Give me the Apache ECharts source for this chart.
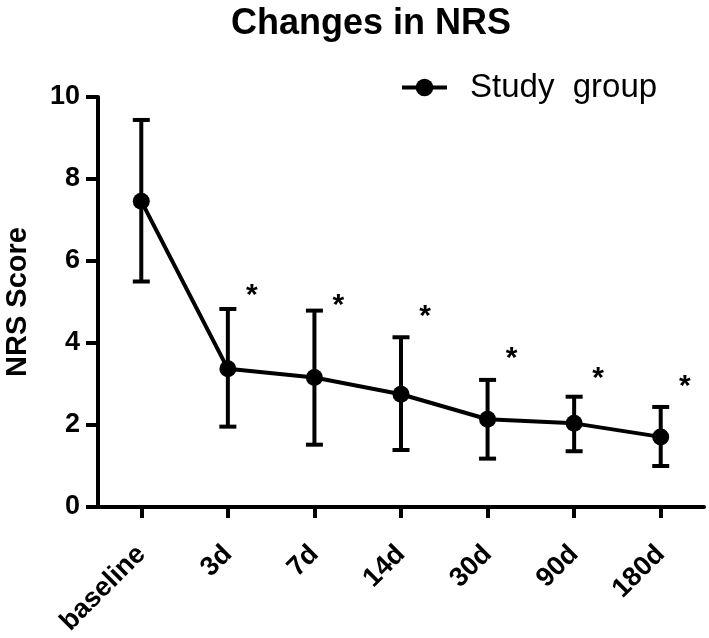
<!DOCTYPE html>
<html>
<head>
<meta charset="utf-8">
<script src="https://cdn.jsdelivr.net/npm/echarts@6/dist/echarts.min.js"></script>
<style>html,body{margin:0;padding:0;background:#fff}#c{width:709px;height:638px}</style>
</head>
<body>
<div id="c"></div>
<script>
var categories = ['baseline', '3d', '7d', '14d', '30d', '90d', '180d'];
var meanValues = [7.46, 3.37, 3.16, 2.75, 2.14, 2.04, 1.71];
var upperValues = [9.44, 4.83, 4.79, 4.14, 3.10, 2.69, 2.44];
var lowerValues = [5.50, 1.96, 1.52, 1.39, 1.18, 1.36, 1.00];
var starValues = [null, 5.23, 4.99, 4.72, 3.69, 3.20, 3.01];
var yTicks = [0, 2, 4, 6, 8, 10];

var FONT = 'Liberation Sans, Arial, sans-serif';
var chart = echarts.init(document.getElementById('c'), null, {renderer: 'canvas'});

var errData = categories.map(function (c, i) { return [i, lowerValues[i], upperValues[i]]; });
var starData = categories.map(function (c, i) { return [i, starValues[i]]; }).filter(function (d) { return d[1] != null; });

chart.setOption({
  animation: false,
  backgroundColor: '#fff',
  title: {
    text: 'Changes in NRS',
    left: 226, top: 1,
    textStyle: {fontFamily: FONT, fontSize: 36, fontWeight: 'bold', color: '#000'}
  },
  legend: {
    data: ['Study group'],
    left: 395, top: 66,
    itemWidth: 45, itemHeight: 22,
    formatter: function () { return 'Study  group'; },
    itemStyle: {color: '#000'},
    lineStyle: {color: '#000', width: 4},
    textStyle: {fontFamily: FONT, fontSize: 33, color: '#000', padding: [0, 0, 0, 18]}
  },
  grid: {left: 98, right: 5, top: 97, bottom: 131, containLabel: false, outerBoundsMode: 'none'},
  xAxis: {
    type: 'category',
    data: categories,
    boundaryGap: true,
    axisLine: {lineStyle: {color: '#000', width: 4}},
    axisTick: {show: true, alignWithLabel: true, length: 11, lineStyle: {width: 4, color: '#000'}},
    axisLabel: {rotate: 45, fontFamily: FONT, fontSize: 27, fontWeight: 'bold', color: '#000', margin: 43}
  },
  yAxis: {
    type: 'value',
    min: yTicks[0], max: yTicks[yTicks.length - 1], interval: 2,
    name: 'NRS Score',
    nameLocation: 'middle',
    nameGap: 66,
    nameTextStyle: {fontFamily: FONT, fontSize: 29, fontWeight: 'bold', color: '#000'},
    axisLine: {show: true, lineStyle: {color: '#000', width: 4}},
    axisTick: {show: true, length: 12, lineStyle: {width: 4, color: '#000'}},
    axisLabel: {fontFamily: FONT, fontSize: 27, fontWeight: 'bold', color: '#000', margin: 18},
    splitLine: {show: false}
  },
  series: [
    {
      type: 'custom',
      name: 'err',
      z: 1,
      data: errData,
      renderItem: function (params, api) {
        var x = api.value(0);
        var lo = api.coord([x, api.value(1)]);
        var hi = api.coord([x, api.value(2)]);
        var hw = 8.5;
        var st = {stroke: '#000', lineWidth: 4};
        return {
          type: 'group',
          children: [
            {type: 'line', shape: {x1: lo[0], y1: lo[1], x2: hi[0], y2: hi[1]}, style: st},
            {type: 'line', shape: {x1: hi[0] - hw, y1: hi[1], x2: hi[0] + hw, y2: hi[1]}, style: st},
            {type: 'line', shape: {x1: lo[0] - hw, y1: lo[1], x2: lo[0] + hw, y2: lo[1]}, style: st}
          ]
        };
      }
    },
    {
      type: 'line',
      name: 'Study group',
      z: 3,
      data: meanValues,
      symbol: 'circle',
      symbolSize: 17,
      lineStyle: {color: '#000', width: 4},
      itemStyle: {color: '#000'}
    },
    {
      type: 'custom',
      name: 'stars',
      z: 4,
      data: starData,
      renderItem: function (params, api) {
        var p = api.coord([api.value(0), api.value(1)]);
        return {
          type: 'text',
          x: p[0] + 24, y: p[1] + 3,
          style: {text: '*', fontFamily: FONT, fontSize: 30, fontWeight: 'bold', fill: '#000', align: 'center', verticalAlign: 'middle'}
        };
      }
    }
  ]
});
</script>
</body>
</html>
